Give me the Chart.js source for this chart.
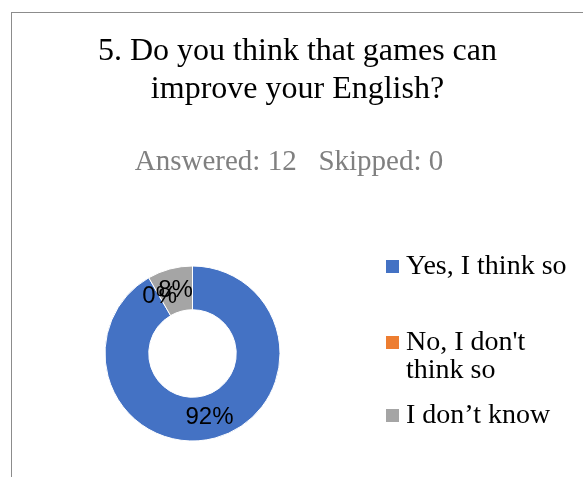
<!DOCTYPE html>
<html>
<head>
<meta charset="utf-8">
<title>Games and English</title>
<script src="https://cdn.jsdelivr.net/npm/chart.js@4.4.1/dist/chart.umd.min.js"></script>
<style>
  html, body { margin: 0; padding: 0; background: #fff; }
  #wrap {
    position: relative; width: 583px; height: 477px; overflow: hidden;
    font-family: "Liberation Serif", "Times New Roman", serif;
  }
  #frame {
    position: absolute; left: 11px; top: 12px; right: -5px; bottom: -5px;
    border-left: 1px solid #8c8c8c; border-top: 1px solid #8c8c8c;
  }
  #donut { position: absolute; left: 0; top: 0; }
  #title {
    position: absolute; left: 12px; right: 0; top: 30px;
    font-size: 32px; line-height: 38.3px; text-align: center; color: #000;
  }
  #subtitle {
    position: absolute; left: 0; width: 578px; top: 143.5px;
    font-size: 29px; line-height: 33.35px; text-align: center; color: #808080;
    white-space: pre;
  }
  #legend { position: absolute; left: 386px; top: 0; width: 195px; }
  .item { position: absolute; left: 0; display: flex; align-items: flex-start; }
  .item:nth-child(1) { top: 250.5px; }
  .item:nth-child(2) { top: 326.5px; }
  .item:nth-child(3) { top: 399.5px; }
  .swatch { width: 13px; height: 13px; margin-top: 9.5px; flex: none; }
  .label { margin-left: 7px; width: 170px; font-size: 28px; line-height: 28px; color: #000; }
</style>
</head>
<body>
<div id="wrap">
  <div id="frame"></div>
  <canvas id="donut" width="583" height="477"></canvas>
  <div id="title">5. Do you think that games can<br>improve your English?</div>
  <div id="subtitle"></div>
  <div id="legend"></div>
</div>
<script>
// survey question 5 - 12 answers, nobody skipped
const answers = ["Yes, I think so", "No, I don't think so", "I don’t know"];
const counts = [11, 0, 1];
const colors = ["#4472C4", "#ED7D31", "#A5A5A5"];
const answered = 12;
const skipped = 0;

document.getElementById("subtitle").textContent =
  "Answered: " + answered + "   Skipped: " + skipped;

// legend on the right, built from the same arrays
const legend = document.getElementById("legend");
answers.forEach((a, i) => {
  const item = document.createElement("div");
  item.className = "item";
  item.innerHTML = '<span class="swatch" style="background:' + colors[i] + '"></span>' +
    '<span class="label"></span>';
  item.querySelector(".label").textContent = a;
  legend.appendChild(item);
});

// percentage labels in the middle of each ring segment
const pctLabels = {
  id: "pctLabels",
  afterDatasetsDraw(chart) {
    const ctx = chart.ctx;
    const values = chart.data.datasets[0].data;
    const total = values.reduce((s, v) => s + v, 0);
    ctx.save();
    ctx.font = "24px 'Liberation Sans', Arial, sans-serif";
    ctx.fillStyle = "#000";
    ctx.textAlign = "center";
    ctx.textBaseline = "middle";
    chart.getDatasetMeta(0).data.forEach((arc, i) => {
      const p = arc.getCenterPoint();
      ctx.fillText(Math.round((values[i] / total) * 100) + "%", p.x, p.y);
    });
    ctx.restore();
  }
};

new Chart(document.getElementById("donut"), {
  type: "doughnut",
  data: {
    labels: answers,
    datasets: [{
      data: counts,
      backgroundColor: colors,
      borderColor: "#fff",
      borderWidth: 1,
      hoverBorderWidth: 1,
      hoverOffset: 0
    }]
  },
  options: {
    responsive: false,
    animation: false,
    events: [],
    cutout: "50%",
    layout: { padding: { left: 104.5, right: 302.5, top: 265.5, bottom: 35.5 } },
    plugins: {
      legend: { display: false },
      title: { display: false },
      tooltip: { enabled: false }
    }
  },
  plugins: [pctLabels]
});
</script>
</body>
</html>
